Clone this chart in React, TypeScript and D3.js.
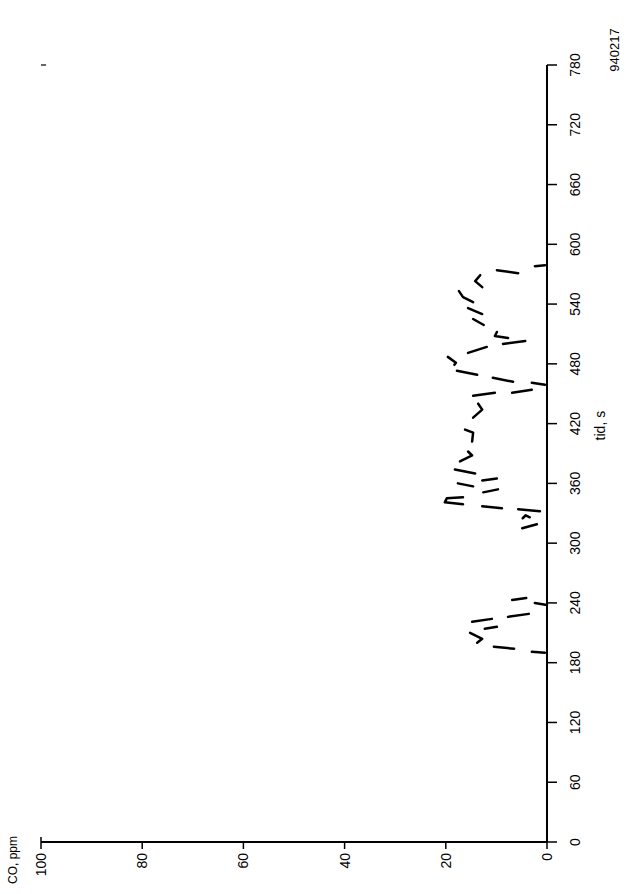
import React from "react";
import * as d3 from "d3";

const timeTicks = [0, 60, 120, 180, 240, 300, 360, 420, 480, 540, 600, 660, 720, 780];
const coTicks = [0, 20, 40, 60, 80, 100];
const coTickLabels = ["0", "20", "40", "60", "80", "100"];

// CO trace fragments: [time s, CO ppm]
const coTrace: [number, number][][] = [
  [[190, 0.4], [191, 3]],
  [[194, 6.5], [196, 10.5]],
  [[200, 13.8], [204, 12.8], [210, 15.2]],
  [[214, 12.3], [216, 9.9]],
  [[221, 14.8], [224, 10.9]],
  [[226, 7.7], [229, 3.6]],
  [[238, 0], [240, 2.4]],
  [[243, 6.9], [245, 4.1]],
  [[315, 4.9], [319, 2]],
  [[325, 4.8], [328, 4.2], [326, 3.4]],
  [[332, 1.4], [334, 5.7]],
  [[335, 8.9], [337, 12.8]],
  [[339, 16.6], [341, 20.2], [345, 19.8], [346, 16.6]],
  [[351, 12.6], [354, 9.7]],
  [[357, 14.6], [360, 17.6]],
  [[363, 12.8], [365, 9.9]],
  [[370, 14.2], [374, 18.2]],
  [[382, 17.2], [388, 14.8], [392, 15.6]],
  [[402, 14.8], [411, 14.6], [414, 16.2]],
  [[426, 14.6], [434, 12.8], [440, 13.6]],
  [[448, 14.6], [451, 10.3]],
  [[451, 6.9], [454, 3]],
  [[459, 0.4], [461, 3]],
  [[462, 6.7], [466, 10.7]],
  [[469, 13.8], [473, 17.8]],
  [[479, 18.3], [481, 18], [487, 19.6]],
  [[491, 15.6], [497, 11.9]],
  [[500, 8.7], [503, 4.3]],
  [[506, 7.7], [508, 10.3], [512, 9.9]],
  [[519, 12.5], [525, 14.6]],
  [[530, 12.8], [536, 15.6]],
  [[542, 14.6], [547, 16.6], [553, 17.4]],
  [[557, 12.8], [563, 14.2], [569, 13.2]],
  [[571, 5.7], [574, 9.9]],
  [[578, 2.4], [579, 0.4]],
];

const xLabel = "tid, s";
const yLabel = "CO, ppm";
const stamp = "940217";

export default function App() {
  const W = 627, H = 894;
  const t = d3.scaleLinear().domain([0, 780]).range([842, 65]);
  const c = d3.scaleLinear().domain([0, 100]).range([547, 41]);
  const line = d3
    .line<[number, number]>()
    .x((d) => c(d[1]))
    .y((d) => t(d[0]))
    .curve(d3.curveLinear);
  const font = "'Liberation Sans', Arial, sans-serif";
  const x0 = c(0);
  const y0 = t(0);
  return (
    <svg
      width={W}
      height={H}
      style={{ position: "absolute", left: 0, top: 0, background: "#fff" }}
    >
      <rect width={W} height={H} fill="#fff" />
      {/* time axis (vertical) */}
      <line x1={x0} x2={x0} y1={t(0)} y2={t(780)} stroke="#000" strokeWidth={2} />
      {timeTicks.map((v) => (
        <g key={"tt" + v}>
          <line x1={x0} x2={x0 + 10} y1={t(v)} y2={t(v)} stroke="#000" strokeWidth={1.5} />
          <text
            transform={`translate(${x0 + 28},${t(v)}) rotate(-90)`}
            textAnchor="middle"
            dominantBaseline="central"
            fontFamily={font}
            fontSize={14}
            fill="#000"
          >
            {v}
          </text>
        </g>
      ))}
      {/* CO axis (horizontal) */}
      <line x1={c(0)} x2={c(100)} y1={y0} y2={y0} stroke="#000" strokeWidth={2} />
      {coTicks.map((v, i) => (
        <g key={"ct" + v}>
          <line
            x1={c(v)}
            x2={c(v)}
            y1={v === 100 ? y0 - 5 : y0}
            y2={y0 + 7}
            stroke="#000"
            strokeWidth={1.5}
          />
          <text
            transform={`translate(${c(v)},${y0 + 11}) rotate(-90)`}
            textAnchor="end"
            dominantBaseline="central"
            fontFamily={font}
            fontSize={14}
            fill="#000"
          >
            {coTickLabels[i]}
          </text>
        </g>
      ))}
      {/* corner mark */}
      <line x1={c(100)} x2={c(99)} y1={t(780)} y2={t(780)} stroke="#000" strokeWidth={1.2} />
      {/* data */}
      {coTrace.map((seg, i) => (
        <path
          key={"s" + i}
          d={line(seg) || ""}
          fill="none"
          stroke="#000"
          strokeWidth={2.5}
          strokeLinecap="round"
          strokeLinejoin="round"
        />
      ))}
      {/* labels */}
      <text
        transform={`translate(${x0 + 53},${t(418)}) rotate(-90)`}
        textAnchor="middle"
        dominantBaseline="central"
        fontFamily={font}
        fontSize={14}
        fill="#000"
      >
        {xLabel}
      </text>
      <text
        transform={`translate(13,884) rotate(-90)`}
        textAnchor="start"
        dominantBaseline="central"
        fontFamily={font}
        fontSize={12}
        fill="#000"
      >
        {yLabel}
      </text>
      <text
        transform={`translate(614,50) rotate(-90)`}
        textAnchor="middle"
        dominantBaseline="central"
        fontFamily={font}
        fontSize={13}
        fill="#000"
      >
        {stamp}
      </text>
    </svg>
  );
}
